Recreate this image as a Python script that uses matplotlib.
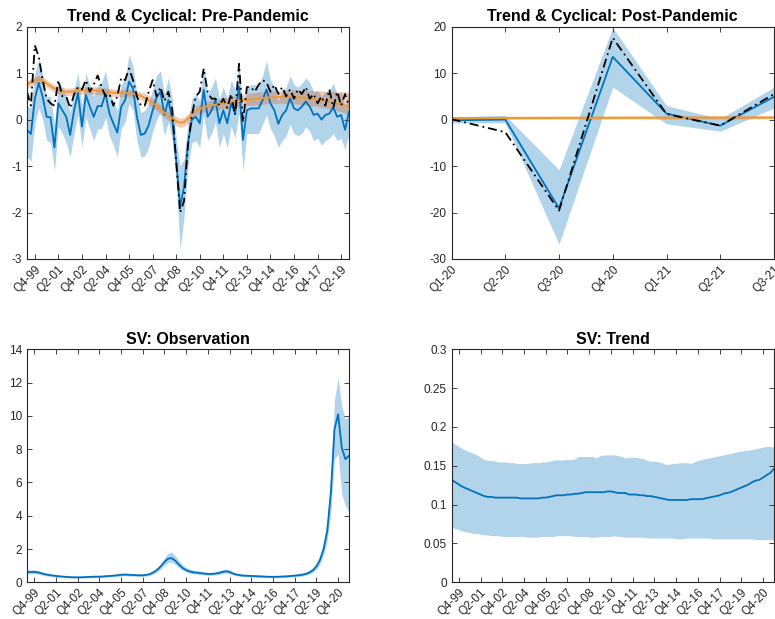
import numpy as np
import matplotlib
matplotlib.use("Agg")
import matplotlib.pyplot as plt
from matplotlib.ticker import FormatStrFormatter

plt.rcParams['font.family'] = ['Liberation Sans', 'DejaVu Sans']
plt.rcParams['axes.unicode_minus'] = False

# ---------- pre-pandemic sample, Q2-99 .. Q4-19 ----------
pre_cycle = [-0.22, -0.31, 0.45, 0.79, 0.49, 0.06, 0.05, -0.60, 0.35, 0.20,
             0.06, -0.33, 0.20, 0.57, -0.15, 0.53, 0.28, 0.06, 0.29, 0.29,
             0.56, 0.13, -0.08, -0.28, 0.28, 0.42, 0.82, 0.67, 0.06, -0.33,
             -0.30, -0.12, 0.20, 0.48, 0.60, 0.10, 0.42, 0.00, -0.87, -1.87,
             -1.45, -0.51, 0.00, 0.06, -0.08, 0.64, 0.06, 0.20, 0.42, -0.08,
             0.20, -0.08, 0.35, 0.13, 0.71, -0.44, 0.20, 0.24, 0.24, 0.24,
             0.42, 0.65, 0.35, 0.20, -0.09, 0.10, 0.20, 0.46, 0.24, 0.20,
             0.28, 0.39, 0.28, 0.10, 0.13, 0.00, 0.10, 0.13, 0.26, 0.06,
             0.10, -0.22, 0.17]
pre_cycle_lo = [-0.80, -0.90, -0.10, 0.25, 0.00, -0.45, -0.50, -1.10, -0.15, -0.30,
                -0.50, -0.80, -0.30, 0.10, -0.60, 0.05, -0.20, -0.45, -0.20, -0.20,
                0.05, -0.35, -0.55, -0.80, -0.20, -0.05, 0.35, 0.20, -0.45, -0.80,
                -0.78, -0.60, -0.25, 0.00, 0.15, -0.35, -0.05, -0.45, -1.35, -2.80,
                -2.10, -1.00, -0.50, -0.45, -0.60, 0.10, -0.45, -0.30, -0.05, -0.60,
                -0.30, -0.60, -0.15, -0.40, 0.15, -1.10, -0.30, -0.30, -0.30, -0.30,
                -0.10, 0.10, -0.20, -0.35, -0.60, -0.45, -0.35, -0.10, -0.30, -0.35,
                -0.30, -0.15, -0.25, -0.45, -0.40, -0.55, -0.45, -0.40, -0.30, -0.45,
                -0.40, -0.65, -0.30]
pre_cycle_hi = [0.30, 0.25, 1.00, 1.30, 0.95, 0.50, 0.50, -0.10, 0.80, 0.70,
                0.50, 0.15, 0.65, 1.00, 0.30, 1.00, 0.75, 0.50, 0.75, 0.80,
                1.05, 0.60, 0.40, 0.20, 0.75, 0.90, 1.40, 1.15, 0.55, 0.15,
                0.20, 0.35, 0.65, 0.95, 1.05, 0.55, 0.90, 0.45, -0.40, -1.00,
                -0.85, -0.05, 0.45, 0.55, 0.40, 1.15, 0.55, 0.70, 0.90, 0.45,
                0.70, 0.45, 0.85, 0.65, 1.25, 0.05, 0.70, 0.75, 0.75, 0.75,
                0.95, 1.27, 0.85, 0.70, 0.40, 0.60, 0.70, 0.95, 0.75, 0.70,
                0.78, 0.90, 0.80, 0.60, 0.62, 0.50, 0.60, 0.63, 0.78, 0.55,
                0.60, 0.25, 0.65]
pre_data = [0.60, 0.30, 1.60, 1.35, 0.85, 0.45, 0.35, 0.30, 0.85, 0.50,
            0.50, 0.25, 0.55, 0.70, 0.65, 0.85, 0.60, 0.75, 0.95, 0.70,
            0.50, 0.55, 0.30, 0.50, 0.90, 0.85, 1.10, 0.85, 0.50, 0.30,
            0.30, 0.60, 0.85, 0.50, 0.70, 0.40, 0.60, 0.20, -0.90, -2.00,
            -1.75, -0.55, 0.10, 0.50, 0.60, 1.10, 0.60, 0.45, 0.45, 0.30,
            0.45, 0.25, 0.55, 0.10, 1.20, -0.05, 0.70, 0.70, 0.60, 0.75,
            0.85, 0.80, 0.60, 0.75, 0.55, 0.70, 0.50, 0.65, 0.45, 0.65,
            0.55, 0.70, 0.45, 0.55, 0.35, 0.50, 0.30, 0.65, 0.25, 0.60,
            0.30, 0.55, 0.30]
pre_trend = [0.75, 0.80, 0.85, 0.87, 0.84, 0.78, 0.72, 0.67, 0.63, 0.61,
             0.60, 0.60, 0.61, 0.62, 0.63, 0.63, 0.63, 0.63, 0.62, 0.61,
             0.60, 0.59, 0.58, 0.57, 0.57, 0.57, 0.57, 0.56, 0.54, 0.51,
             0.47, 0.42, 0.36, 0.30, 0.22, 0.15, 0.08, 0.02, -0.03, -0.07,
             -0.05, 0.02, 0.12, 0.18, 0.23, 0.26, 0.29, 0.31, 0.32, 0.34,
             0.35, 0.36, 0.38, 0.39, 0.40, 0.41, 0.42, 0.43, 0.44, 0.45,
             0.46, 0.47, 0.48, 0.48, 0.49, 0.49, 0.49, 0.49, 0.48, 0.48,
             0.47, 0.46, 0.45, 0.44, 0.43, 0.42, 0.40, 0.39, 0.37, 0.35,
             0.33, 0.30, 0.28]
pre_trend_lo = [0.67, 0.72, 0.77, 0.79, 0.76, 0.70, 0.64, 0.59, 0.55, 0.53,
                0.52, 0.52, 0.53, 0.54, 0.55, 0.55, 0.55, 0.55, 0.54, 0.53,
                0.52, 0.51, 0.50, 0.49, 0.49, 0.49, 0.49, 0.48, 0.46, 0.43,
                0.37, 0.32, 0.26, 0.20, 0.12, 0.05, -0.02, -0.08, -0.13, -0.17,
                -0.15, -0.08, 0.02, 0.08, 0.13, 0.16, 0.18, 0.20, 0.21, 0.22,
                0.23, 0.24, 0.26, 0.27, 0.28, 0.29, 0.30, 0.31, 0.31, 0.32,
                0.33, 0.34, 0.35, 0.35, 0.35, 0.35, 0.35, 0.35, 0.34, 0.33,
                0.32, 0.31, 0.30, 0.29, 0.28, 0.26, 0.24, 0.23, 0.21, 0.19,
                0.17, 0.14, 0.11]
pre_trend_hi = [0.83, 0.88, 0.93, 0.95, 0.92, 0.86, 0.80, 0.75, 0.71, 0.69,
                0.68, 0.68, 0.69, 0.70, 0.71, 0.71, 0.71, 0.71, 0.70, 0.69,
                0.68, 0.67, 0.66, 0.65, 0.65, 0.65, 0.65, 0.64, 0.62, 0.59,
                0.57, 0.52, 0.46, 0.40, 0.32, 0.25, 0.18, 0.12, 0.07, 0.03,
                0.05, 0.12, 0.22, 0.28, 0.33, 0.36, 0.40, 0.42, 0.43, 0.45,
                0.47, 0.48, 0.50, 0.51, 0.53, 0.54, 0.55, 0.57, 0.58, 0.59,
                0.60, 0.61, 0.62, 0.62, 0.63, 0.63, 0.63, 0.64, 0.64, 0.64,
                0.63, 0.63, 0.63, 0.62, 0.62, 0.62, 0.61, 0.61, 0.61, 0.60,
                0.60, 0.60, 0.59]

# ---------- post-pandemic sample, Q1-20 .. Q3-21 ----------
post_labels = ['Q1-20', 'Q2-20', 'Q3-20', 'Q4-20', 'Q1-21', 'Q2-21', 'Q3-21']
post_cycle = [-0.15, 0.0, -19.1, 13.5, 1.3, -1.3, 4.9]
post_cycle_lo = [-0.7, -0.7, -26.8, 7.0, -0.9, -2.5, 2.5]
post_cycle_hi = [0.6, 0.9, -10.8, 19.8, 3.0, 0.2, 7.0]
post_data = [0.1, -2.7, -19.6, 17.6, 1.2, -1.3, 5.5]
post_trend = [0.30, 0.35, 0.38, 0.40, 0.42, 0.44, 0.45]
post_trend_lo = [0.00, 0.05, 0.08, 0.10, 0.12, 0.14, 0.15]
post_trend_hi = [0.60, 0.65, 0.68, 0.70, 0.72, 0.74, 0.75]

# ---------- stochastic volatilities, Q2-99 .. Q3-21 ----------
sv_obs = [0.60, 0.62, 0.62, 0.60, 0.54, 0.48, 0.44, 0.41, 0.38, 0.36,
          0.34, 0.32, 0.31, 0.30, 0.30, 0.30, 0.31, 0.32, 0.33, 0.34,
          0.34, 0.35, 0.37, 0.38, 0.40, 0.42, 0.45, 0.46, 0.45, 0.44,
          0.43, 0.42, 0.42, 0.44, 0.50, 0.60, 0.75, 0.96, 1.22, 1.42,
          1.45, 1.30, 1.06, 0.86, 0.73, 0.65, 0.60, 0.58, 0.55, 0.52,
          0.50, 0.50, 0.52, 0.56, 0.62, 0.66, 0.62, 0.52, 0.46, 0.42,
          0.40, 0.39, 0.38, 0.37, 0.36, 0.35, 0.34, 0.33, 0.33, 0.33,
          0.34, 0.35, 0.36, 0.38, 0.40, 0.42, 0.45, 0.50, 0.58, 0.72,
          0.95, 1.35, 2.00, 3.10, 5.40, 9.20, 10.10, 8.10, 7.40, 7.60]
sv_obs_lo = [0.50, 0.52, 0.52, 0.50, 0.45, 0.40, 0.37, 0.34, 0.32, 0.30,
             0.29, 0.27, 0.26, 0.25, 0.25, 0.25, 0.26, 0.27, 0.28, 0.28,
             0.29, 0.29, 0.31, 0.32, 0.34, 0.35, 0.38, 0.39, 0.38, 0.37,
             0.36, 0.35, 0.35, 0.37, 0.42, 0.50, 0.63, 0.80, 1.02, 1.18,
             1.20, 1.08, 0.88, 0.72, 0.61, 0.54, 0.50, 0.48, 0.46, 0.44,
             0.42, 0.42, 0.44, 0.47, 0.52, 0.55, 0.52, 0.44, 0.39, 0.35,
             0.34, 0.33, 0.32, 0.31, 0.30, 0.29, 0.28, 0.28, 0.28, 0.28,
             0.28, 0.29, 0.30, 0.32, 0.33, 0.35, 0.37, 0.41, 0.48, 0.59,
             0.78, 1.10, 1.62, 2.50, 4.20, 7.40, 7.70, 5.30, 4.60, 4.20]
sv_obs_hi = [0.72, 0.75, 0.75, 0.72, 0.65, 0.58, 0.53, 0.49, 0.46, 0.43,
             0.41, 0.39, 0.37, 0.36, 0.36, 0.36, 0.37, 0.38, 0.40, 0.41,
             0.41, 0.42, 0.44, 0.46, 0.48, 0.51, 0.54, 0.56, 0.55, 0.53,
             0.52, 0.51, 0.51, 0.53, 0.60, 0.72, 0.90, 1.16, 1.48, 1.75,
             1.82, 1.60, 1.30, 1.05, 0.88, 0.79, 0.73, 0.70, 0.66, 0.63,
             0.60, 0.60, 0.63, 0.68, 0.75, 0.80, 0.75, 0.63, 0.55, 0.51,
             0.48, 0.47, 0.46, 0.45, 0.44, 0.42, 0.41, 0.40, 0.40, 0.40,
             0.41, 0.42, 0.44, 0.46, 0.48, 0.51, 0.55, 0.61, 0.71, 0.88,
             1.16, 1.65, 2.45, 3.80, 6.60, 11.00, 12.30, 10.60, 9.80, 10.00]
sv_trend = [0.132, 0.129, 0.126, 0.123, 0.121, 0.119, 0.117, 0.115, 0.113, 0.111,
            0.110, 0.110, 0.109, 0.109, 0.109, 0.109, 0.109, 0.109, 0.109, 0.108,
            0.108, 0.108, 0.108, 0.108, 0.108, 0.109, 0.109, 0.110, 0.111, 0.112,
            0.112, 0.112, 0.113, 0.113, 0.114, 0.114, 0.115, 0.116, 0.116, 0.116,
            0.116, 0.116, 0.116, 0.117, 0.117, 0.116, 0.115, 0.115, 0.115, 0.113,
            0.113, 0.113, 0.112, 0.112, 0.111, 0.111, 0.110, 0.109, 0.108, 0.107,
            0.106, 0.106, 0.106, 0.106, 0.106, 0.106, 0.107, 0.107, 0.107, 0.107,
            0.108, 0.109, 0.110, 0.111, 0.112, 0.114, 0.115, 0.116, 0.118, 0.120,
            0.122, 0.124, 0.126, 0.129, 0.131, 0.132, 0.135, 0.138, 0.141, 0.146]
sv_trend_lo = [0.071, 0.069, 0.068, 0.066, 0.065, 0.064, 0.063, 0.063, 0.062, 0.061,
               0.061, 0.060, 0.060, 0.060, 0.059, 0.059, 0.059, 0.059, 0.059, 0.059,
               0.059, 0.058, 0.058, 0.058, 0.058, 0.059, 0.059, 0.059, 0.059, 0.060,
               0.060, 0.060, 0.060, 0.060, 0.059, 0.059, 0.059, 0.059, 0.058, 0.058,
               0.058, 0.059, 0.059, 0.059, 0.059, 0.060, 0.059, 0.059, 0.058, 0.058,
               0.058, 0.058, 0.058, 0.058, 0.057, 0.057, 0.057, 0.057, 0.057, 0.057,
               0.057, 0.057, 0.056, 0.056, 0.056, 0.057, 0.057, 0.057, 0.057, 0.057,
               0.057, 0.057, 0.056, 0.056, 0.056, 0.056, 0.056, 0.056, 0.056, 0.056,
               0.056, 0.056, 0.056, 0.056, 0.055, 0.055, 0.055, 0.055, 0.055, 0.055]
sv_trend_hi = [0.181, 0.178, 0.175, 0.172, 0.170, 0.168, 0.166, 0.164, 0.161, 0.158,
               0.157, 0.157, 0.156, 0.155, 0.155, 0.155, 0.154, 0.154, 0.153, 0.153,
               0.153, 0.153, 0.154, 0.154, 0.154, 0.155, 0.155, 0.156, 0.157, 0.158,
               0.157, 0.158, 0.158, 0.158, 0.159, 0.162, 0.162, 0.162, 0.162, 0.162,
               0.160, 0.163, 0.164, 0.164, 0.164, 0.164, 0.163, 0.162, 0.160, 0.161,
               0.161, 0.161, 0.160, 0.159, 0.157, 0.156, 0.156, 0.155, 0.154, 0.152,
               0.152, 0.153, 0.153, 0.154, 0.154, 0.154, 0.153, 0.155, 0.157, 0.158,
               0.159, 0.160, 0.161, 0.162, 0.163, 0.164, 0.165, 0.166, 0.167, 0.168,
               0.169, 0.170, 0.170, 0.171, 0.172, 0.173, 0.174, 0.175, 0.175, 0.174]

# date ticks: every sixth quarter starting at Q4-99
pre_tick_labels = ['Q4-99', 'Q2-01', 'Q4-02', 'Q2-04', 'Q4-05', 'Q2-07', 'Q4-08',
                   'Q2-10', 'Q4-11', 'Q2-13', 'Q4-14', 'Q2-16', 'Q4-17', 'Q2-19']
full_tick_labels = pre_tick_labels + ['Q4-20']

BLUE = '#0072BD'
ORANGE = '#EE9A30'
RED = '#D95319'
EDGE = '#262626'
DASHDOT = (0, (5, 2.2, 1, 2.2))


def style_axes(ax, title):
    ax.set_title(title, fontsize=11.5, fontweight='bold', pad=4)
    for s in ax.spines.values():
        s.set_color(EDGE)
        s.set_linewidth(0.8)
    ax.tick_params(direction='in', length=3.5, width=0.6, colors=EDGE,
                   labelsize=8.5, top=True, right=True)
    ax.tick_params(axis='x', pad=3)


def date_ticks(ax, labels):
    pos = np.arange(len(labels)) * 6 + 2
    ax.set_xticks(pos)
    ax.set_xticklabels(labels, rotation=45, ha='right', va='top',
                       rotation_mode='anchor')


fig = plt.figure(figsize=(7.75, 6.19), dpi=100)

# trend & cyclical before the pandemic
ax1 = fig.add_axes([0.0348, 0.5816, 0.4155, 0.3753])
t = np.arange(len(pre_cycle))
ax1.fill_between(t, pre_cycle_lo, pre_cycle_hi, color=BLUE, alpha=0.3, lw=0)
ax1.fill_between(t, pre_trend_lo, pre_trend_hi, color=RED, alpha=0.3, lw=0)
ax1.plot(t, pre_cycle, color=BLUE, lw=1.3)
ax1.plot(t, pre_trend, color=ORANGE, lw=1.4)
ax1.plot(t, pre_data, color='black', lw=1.3, ls=DASHDOT)
ax1.set_xlim(0, len(t) - 1)
ax1.set_ylim(-3, 2)
ax1.set_yticks(np.arange(-3, 3))
date_ticks(ax1, pre_tick_labels)
style_axes(ax1, 'Trend & Cyclical: Pre-Pandemic')

# trend & cyclical after the pandemic
ax2 = fig.add_axes([0.5826, 0.5816, 0.4161, 0.3753])
p = np.arange(len(post_labels))
ax2.fill_between(p, post_cycle_lo, post_cycle_hi, color=BLUE, alpha=0.3, lw=0)
ax2.fill_between(p, post_trend_lo, post_trend_hi, color=RED, alpha=0.3, lw=0)
ax2.plot(p, post_cycle, color=BLUE, lw=1.3)
ax2.plot(p, post_trend, color=ORANGE, lw=1.6)
ax2.plot(p, post_data, color='black', lw=1.3, ls=DASHDOT)
ax2.set_xlim(0, len(p) - 1)
ax2.set_ylim(-30, 20)
ax2.set_yticks(np.arange(-30, 21, 10))
ax2.set_xticks(p)
ax2.set_xticklabels(post_labels, rotation=45, ha='right', va='top',
                    rotation_mode='anchor')
style_axes(ax2, 'Trend & Cyclical: Post-Pandemic')

# volatility of the observation equation
ax3 = fig.add_axes([0.0348, 0.0593, 0.4155, 0.3764])
s = np.arange(len(sv_obs))
ax3.fill_between(s, sv_obs_lo, sv_obs_hi, color=BLUE, alpha=0.3, lw=0)
ax3.plot(s, sv_obs, color=BLUE, lw=1.3)
ax3.set_xlim(0, len(s) - 1)
ax3.set_ylim(0, 14)
ax3.set_yticks(np.arange(0, 15, 2))
date_ticks(ax3, full_tick_labels)
style_axes(ax3, 'SV: Observation')

# volatility of the trend
ax4 = fig.add_axes([0.5826, 0.0593, 0.4161, 0.3764])
ax4.fill_between(s, sv_trend_lo, sv_trend_hi, color=BLUE, alpha=0.3, lw=0)
ax4.plot(s, sv_trend, color=BLUE, lw=1.3)
ax4.set_xlim(0, len(s) - 1)
ax4.set_ylim(0, 0.3)
ax4.set_yticks(np.arange(0, 0.31, 0.05))
ax4.yaxis.set_major_formatter(FormatStrFormatter('%g'))
date_ticks(ax4, full_tick_labels)
style_axes(ax4, 'SV: Trend')

fig.savefig('out.png', dpi=100)
